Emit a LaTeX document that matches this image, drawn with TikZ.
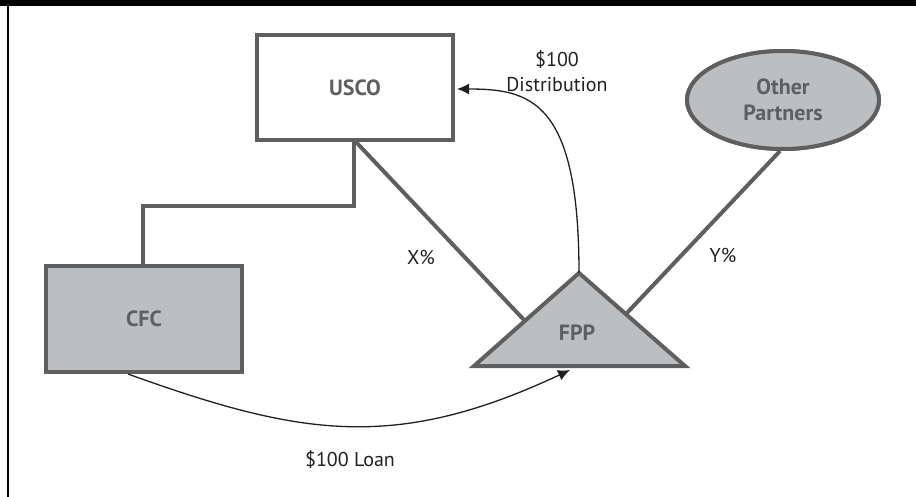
\documentclass[tikz,border=0pt]{standalone}
\usepackage{fontspec}
\setmainfont{PT Sans}
\usetikzlibrary{shapes.geometric,arrows.meta}
\definecolor{edgegray}{HTML}{5E5F60}
\definecolor{fillgray}{HTML}{BDBEC0}
\definecolor{txtgray}{HTML}{5E5F60}
\definecolor{ink}{HTML}{231F20}
\tikzset{
  entity/.style={draw=edgegray, line width=4pt, inner sep=0pt, align=center,
    font=\fontsize{22}{26}\selectfont\bfseries, text=txtgray},
  link/.style={draw=edgegray, line width=4pt, line join=miter},
  flow/.style={draw=ink, line width=1.3pt, -{Latex[length=12pt,width=11pt]}},
  lbl/.style={font=\fontsize{20}{25}\selectfont, text=ink, align=center, inner sep=0pt}
}
\begin{document}
\begin{tikzpicture}[x=1pt,y=-1pt]
\useasboundingbox (0,0) rectangle (916,497);
\fill[black] (0,0) rectangle (916,6.5);
\draw[black,line width=2.2pt] (8,0) -- (8,497);

% nodes
\node[entity, fill=white, minimum width=196pt, minimum height=105pt] (usco) at (355,87.5) {USCO};
\node[entity, fill=fillgray, minimum width=195.5pt, minimum height=106pt] (cfc) at (144,319) {CFC};
\node[entity, ellipse, fill=fillgray, minimum width=192pt, minimum height=98pt] (op) at (783,100) {Other\\Partners};

% triangle corners
\coordinate (fppL) at (474,366);
\coordinate (fppR) at (685,366);
\coordinate (fppT) at (579,273);
\coordinate (xEnd) at (525,321);
\coordinate (yEnd) at (626,314);
\coordinate (loanEnd) at (570,370);

% ownership links
\draw[link] ([xshift=-1pt]usco.south) -- ++(0,64.5) -| ([xshift=-1pt]cfc.north);
\draw[link] ([xshift=1pt]usco.south) -- (xEnd);
\draw[link] ([xshift=-3pt]op.south) -- (yEnd);

% redraw shapes on top of link ends
\node[entity, ellipse, fill=fillgray, minimum width=192pt, minimum height=98pt] at (783,100) {Other\\Partners};
\node[entity, fill=white, minimum width=196pt, minimum height=105pt] at (355,87.5) {USCO};
\filldraw[link, fill=fillgray] (fppL) -- (fppR) -- (fppT) -- cycle;
\node[font=\fontsize{22}{26}\selectfont\bfseries, text=txtgray] (fpp) at (577,333) {FPP};

% flows
\draw[flow] (fppT) .. controls (579,100) and (530,89) .. ([xshift=2pt,yshift=-1.5pt]usco.east);
\draw[flow] ([xshift=-16pt]cfc.south) .. controls (300,436) and (395,452) .. (loanEnd);

% labels
\node[lbl] (dist) at (557,71) {\$100\\Distribution};
\node[lbl] (xp) at (421,257) {X\%};
\node[lbl] (yp) at (723,255) {Y\%};
\node[lbl] (loan) at (350,459) {\$100 Loan};
\end{tikzpicture}
\end{document}
